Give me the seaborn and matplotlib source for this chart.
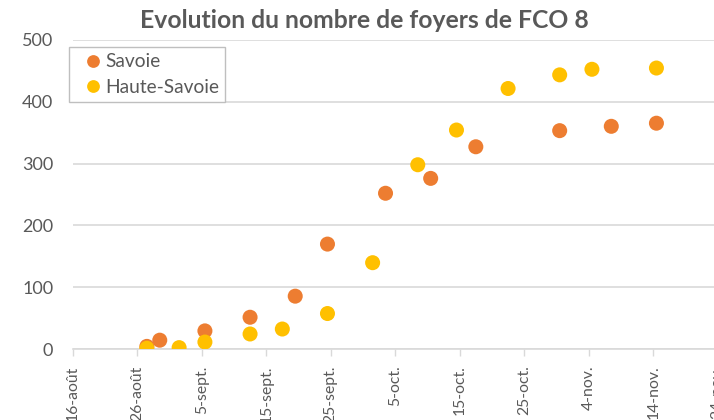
import pandas as pd
import matplotlib
matplotlib.use("Agg")
import matplotlib.pyplot as plt
import matplotlib.dates as mdates
import seaborn as sns

# foyers de FCO 8, relevés par département
savoie_dates = ["2015-08-27", "2015-08-29", "2015-09-05", "2015-09-12", "2015-09-19",
                "2015-09-24", "2015-10-03", "2015-10-10", "2015-10-17", "2015-10-30",
                "2015-11-07", "2015-11-14"]
savoie_foyers = [5, 15, 30, 52, 86, 170, 252, 276, 327, 353, 360, 365]

hsavoie_dates = ["2015-08-27", "2015-09-01", "2015-09-05", "2015-09-12", "2015-09-17",
                 "2015-09-24", "2015-10-01", "2015-10-08", "2015-10-14", "2015-10-22",
                 "2015-10-30", "2015-11-04", "2015-11-14"]
hsavoie_foyers = [2, 3, 12, 25, 33, 58, 140, 298, 354, 421, 443, 452, 454]

tick_dates = ["2015-08-16", "2015-08-26", "2015-09-05", "2015-09-15", "2015-09-25",
              "2015-10-05", "2015-10-15", "2015-10-25", "2015-11-04", "2015-11-14",
              "2015-11-24"]
tick_labels = ["16-août", "26-août", "5-sept.", "15-sept.", "25-sept.", "5-oct.",
               "15-oct.", "25-oct.", "4-nov.", "14-nov.", "24-nov."]

df = pd.concat([
    pd.DataFrame({"date": pd.to_datetime(savoie_dates), "foyers": savoie_foyers, "dept": "Savoie"}),
    pd.DataFrame({"date": pd.to_datetime(hsavoie_dates), "foyers": hsavoie_foyers, "dept": "Haute-Savoie"}),
], ignore_index=True)

sns.set_style("white")
plt.rcParams["font.family"] = ["Lato", "DejaVu Sans"]
grey_txt = "#595959"
grey_line = "#D9D9D9"

fig = plt.figure(figsize=(7.14, 4.20), dpi=100)
ax = fig.add_axes([0.1018, 0.1679, 0.9034, 0.738])

sns.scatterplot(data=df, x="date", y="foyers", hue="dept",
                palette={"Savoie": "#ED7D31", "Haute-Savoie": "#FFC000"},
                s=117, linewidth=0, ax=ax, zorder=3)

# Excel-style date axis: points sit mid-day, ticks at day boundaries
ticks = mdates.date2num(pd.to_datetime(tick_dates)) - 0.5
ax.set_xlim(ticks[0], ticks[-1])
ax.set_xticks(ticks)
ax.set_xticklabels(tick_labels, rotation=90, fontsize=11.3, color=grey_txt, va="top")
ax.set_ylim(0, 500)
ax.set_yticks(range(0, 501, 100))
ax.tick_params(axis="y", length=0, pad=14, labelsize=13, labelcolor=grey_txt)
ax.tick_params(axis="x", length=5, width=1, color=grey_line, pad=6.5, direction="out", bottom=True)
ax.set_xlabel("")
ax.set_ylabel("")
ax.grid(axis="y", color=grey_line, linewidth=1.2, zorder=0)
ax.set_axisbelow(True)
for side in ["top", "right", "left"]:
    ax.spines[side].set_visible(False)
ax.spines["bottom"].set_color(grey_line)
ax.spines["bottom"].set_linewidth(1.2)

fig.text(0.511, 0.952, "Evolution du nombre de foyers de FCO 8", ha="center", va="center",
         fontsize=17.8, fontweight="bold", color=grey_txt)

leg = ax.legend(loc="upper left", bbox_to_anchor=(0.0966, 0.887), bbox_transform=fig.transFigure,
                borderaxespad=0, fancybox=False, framealpha=1, edgecolor="#BFBFBF",
                fontsize=13.8, handletextpad=-0.3, markerscale=0.85, borderpad=0.3,
                labelspacing=0.45, handlelength=1.9, title=None)
for t in leg.get_texts():
    t.set_color(grey_txt)

fig.savefig("out.png", dpi=100)
